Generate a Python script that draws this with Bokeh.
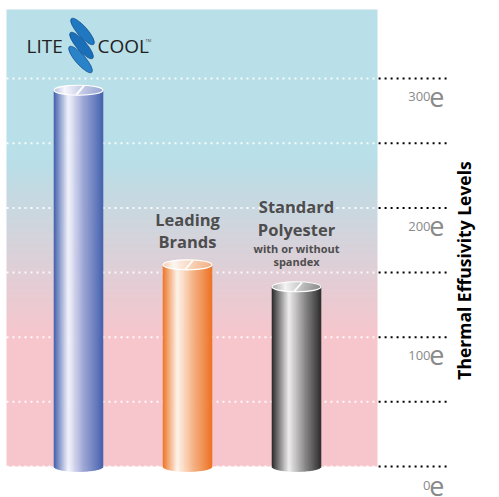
import numpy as np
from bokeh.plotting import figure
from bokeh.models import Range1d
from bokeh.core.properties import value
from bokeh.embed import file_html
from bokeh.resources import INLINE

# ---- data ----
categories = ["Lite Cool", "Leading Brands", "Standard Polyester"]
values = [291, 156, 139]
grid_ticks = [0, 50, 100, 150, 200, 250, 300]
label_ticks = [0, 100, 200, 300]
tick_labels = ["0", "100", "200", "300"]
axis_title = "Thermal Effusivity Levels"

# page px -> data helpers (decoration placement only)
XU, X0 = 109.0, 78.0
YU, Y0 = 1.293, 466.0
def dx(px): return (px - X0) / XU
def dy(py): return (Y0 - py) / YU

W, H = 499, 497
p = figure(width=W, height=H, output_backend="svg", toolbar_location=None,
           x_range=Range1d(dx(0), dx(W)), y_range=Range1d(dy(H), dy(0)),
           min_border=0, outline_line_color=None)
p.axis.visible = False
p.grid.visible = False
p.background_fill_color = "white"
p.border_fill_color = "white"

# ---- background gradient panel ----
n = 200
blue = np.array([185, 223, 232])
pink = np.array([247, 198, 205])
rows = np.zeros((n, 1), dtype=np.uint32)
view = rows.view(dtype=np.uint8).reshape((n, 1, 4))
top_v, bot_v = dy(9), 0.0
for i in range(n):
    v = bot_v + (top_v - bot_v) * (i + 0.5) / n
    py = Y0 - v * YU
    t = np.clip((py - 160) / (335 - 160), 0, 1)
    c = blue * (1 - t) + pink * t
    view[i, 0, :3] = c.astype(np.uint8)
    view[i, 0, 3] = 255
p.image_rgba(image=[rows], x=dx(6), y=bot_v, dw=dx(377) - dx(6), dh=top_v - bot_v)

# ---- grid lines ----
panel_right = dx(377)
grid_right = dx(447)
for g in grid_ticks:
    p.line([dx(6), panel_right], [g, g], line_color="white", line_width=2, line_dash="2 4", line_alpha=0.9)
    p.line([panel_right + 0.01, grid_right], [g, g], line_color="black", line_width=2, line_dash="2 4")

# ---- tick labels ----
e_right = dx(444)
num_right = dx(430)
for t, lab in zip(label_ticks, tick_labels):
    off = 14.0 if t > 0 else 15.0
    p.text(x=[e_right], y=[t - off], text=["e"], text_align="right", text_baseline="alphabetic",
           text_font=value("Open Sans"), text_font_size="27px", text_color="#8a8a8a")
    p.text(x=[num_right], y=[t - off], text=[lab], text_align="right", text_baseline="alphabetic",
           text_font=value("Open Sans"), text_font_size="13px", text_color="#8a8a8a")

# ---- axis title ----
p.text(x=[dx(463)], y=[dy(270)], text=[axis_title], angle=np.pi / 2, text_align="center",
       text_baseline="middle", text_font=value("Open Sans"), text_font_style="bold",
       text_font_size="17.5px", text_color="black")

# ---- cylinders ----
stops = [
    [(0, (68, 96, 172)), (0.3, (246, 246, 255)), (0.62, (152, 162, 212)), (1, (72, 100, 176))],
    [(0, (238, 118, 40)), (0.3, (255, 246, 236)), (0.65, (245, 172, 122)), (1, (238, 116, 38))],
    [(0, (42, 42, 42)), (0.35, (240, 240, 240)), (0.7, (128, 128, 128)), (1, (48, 48, 48))],
]
def grad(st, t):
    for (a, ca), (b, cb) in zip(st[:-1], st[1:]):
        if a <= t <= b:
            f = (t - a) / (b - a)
            return tuple(int(ca[k] * (1 - f) + cb[k] * f) for k in range(3))
    return st[-1][1]
def hexc(c): return "#%02x%02x%02x" % c

bar_w = 49 / XU
r = bar_w / 2
eh = 5.0 / YU
ns = 48
for i, v in enumerate(values):
    cx = i
    L, R, B, T, C, TB, TT, TC = [], [], [], [], [], [], [], []
    for k in range(ns):
        x0 = cx - r + bar_w * k / ns
        x1 = cx - r + bar_w * (k + 1) / ns
        tm = (k + 0.5) / ns
        u = (tm * 2 - 1)
        s = np.sqrt(max(0.0, 1 - u * u))
        c = grad(stops[i], tm)
        L.append(x0); R.append(x1); B.append(-eh * s); T.append(v); C.append(hexc(c))
        tc = grad(stops[i], min(1, tm * 0.9 + 0.1))
        lc = tuple(int(tc[q] * 0.55 + 255 * 0.45) for q in range(3))
        TB.append(v - eh * s); TT.append(v + eh * s); TC.append(hexc(lc))
    p.quad(left=L, right=R, bottom=B, top=T, fill_color=C, line_color=C, line_width=0.6)
    p.quad(left=L, right=R, bottom=TB, top=TT, fill_color=TC, line_color=TC, line_width=0.6)
    p.ellipse(x=[cx], y=[v], width=bar_w, height=2 * eh, fill_alpha=0,
              line_color="white", line_width=1.2)
    p.line([cx - 0.02, cx + 0.05], [v - eh * 0.9, v + eh * 0.9], line_color="white", line_width=2, line_alpha=0.9)

# ---- bar labels ----
lab_font = value("Open Sans")
p.text(x=[1, 1], y=[dy(219), dy(241)], text=["Leading", "Brands"], text_align="center",
       text_baseline="middle", text_font=lab_font, text_font_style="bold",
       text_font_size="16.5px", text_color="#4d4d4d")
p.text(x=[2, 2], y=[dy(206), dy(229)], text=["Standard", "Polyester"], text_align="center",
       text_baseline="middle", text_font=lab_font, text_font_style="bold",
       text_font_size="16.5px", text_color="#4d4d4d")
p.text(x=[2, 2], y=[dy(248), dy(261)], text=["with or without", "spandex"], text_align="center",
       text_baseline="middle", text_font=lab_font, text_font_style="bold",
       text_font_size="11px", text_color="#4d4d4d")

# ---- logo ----
p.text(x=[dx(26)], y=[dy(45)], text=["LITE"], text_align="left", text_baseline="middle",
       text_font=value("Open Sans"), text_font_size="19px", text_color="#222222")
p.text(x=[dx(97)], y=[dy(45)], text=["COOL"], text_align="left", text_baseline="middle",
       text_font=value("Open Sans"), text_font_size="19px", text_color="#222222")
for j, (cxp, cyp) in enumerate([(82, 31), (81, 45), (80, 59)]):
    p.ellipse(x=[dx(cxp)], y=[dy(cyp)], width=34 / XU, height=10 / YU, angle=-0.85,
              fill_color=["#1f78c0", "#1a6fb8", "#2a82c8"][j], line_color="#0f4f90", line_width=0.8)
p.text(x=[dx(145)], y=[dy(40)], text=["TM"], text_font=value("Open Sans"),
       text_font_size="4px", text_color="#444444", text_baseline="middle")

open("out.html", "w").write(file_html(p, INLINE))
